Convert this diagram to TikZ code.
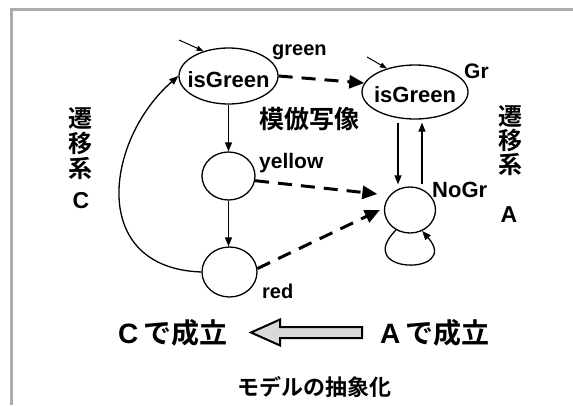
\documentclass[tikz,border=0pt]{standalone}
\usepackage{fontspec}
\setmainfont{Liberation Sans}
\newfontfamily\jp{Noto Sans CJK JP}[BoldFont={Noto Sans CJK JP Bold}]
\usetikzlibrary{shapes.geometric,arrows.meta,calc}

\tikzset{
  lat/.style={font=\fontsize{#1pt}{#1pt}\selectfont\bfseries, inner sep=0pt},
  jpf/.style={font=\jp\fontsize{#1pt}{#1pt}\selectfont\bfseries, inner sep=0pt},
  state/.style={ellipse, draw, line width=1.3pt, inner sep=0pt},
  trans/.style={-{Triangle[length=9pt,width=7pt]}, line width=1.3pt},
  initarr/.style={-{Triangle[length=7pt,width=5pt]}, line width=1pt},
  abst/.style={-{Triangle[length=15pt,width=13pt]}, line width=3pt, dash pattern=on 14pt off 9pt},
}

\begin{document}
\begin{tikzpicture}[x=1pt,y=-1pt]
\useasboundingbox (0,0) rectangle (573,405);

% frame edges
\draw[line width=3pt, draw=gray!65] (11.5,405) -- (11.5,9) -- (573,9);

% concrete system C
\node[state, minimum width=99pt, minimum height=56pt, lat=22, text height=24pt] (cg) at (228.5,76) {\makebox[0pt]{isGreen}};
\node[state, minimum width=53pt, minimum height=48pt] (cy) at (228.5,176) {};
\node[state, minimum width=55pt, minimum height=50pt] (cr) at (229.5,272) {};

% abstract system A
\node[state, minimum width=106pt, minimum height=54pt, lat=22, text height=22pt] (ag) at (415,92) {\makebox[0pt]{isGreen}};
\node[state, minimum width=51pt, minimum height=46pt] (an) at (410,210) {};

% state labels
\node[lat=20, anchor=base west] (lg) at (272,55) {green};
\node[lat=21, anchor=base west] (ly) at (259,168) {yellow};
\node[lat=20, anchor=base west] (lr) at (262,298) {red};
\node[lat=21, anchor=base west] (lgr) at (464,78) {Gr};
\node[lat=22, anchor=base west] (ln) at (432,197) {NoGr};

% initial-state arrows
\coordinate (ci) at (179,40);
\coordinate (ai) at (367,57);
\draw[initarr] (ci) -- (cg.135);
\draw[initarr] (ai) -- (ag.140);

% transitions of C
\draw[trans] (cg.south) -- (cy.north);
\draw[trans] (cy.south) -- (cy.south |- cr.north);
\draw[trans] (cr.west) .. controls (88,268) and (105,140) .. (cg.west);

% transitions of A
\draw[trans] ($(ag.south)+(-17,3)$) -- ($(an.north)+(-12,-2)$);
\draw[trans] ($(an.north)+(12,-2)$) -- ($(ag.south)+(7,3)$);
\draw[trans] (an.235) .. controls +(-45,45) and +(40,45) .. (an.300);

% simulation mapping
\draw[abst] (cg.east) -- (ag.170);
\draw[abst] (cy.-10) -- ($(an.west)+(-6.5,-16)$);
\draw[abst] (cr.7) -- ($(an.west)+(-4,0)$);
\node[jpf=25] (mm) at (309,119) {模倣写像};

% system names
\node[font=\jp\bfseries\fontsize{24pt}{25pt}\selectfont, align=center, anchor=north, inner sep=0pt] (sc) at (80,107)
  {遷\\移\\系};
\node[lat=23] (scn) at (81,200.5) {C};
\node[font=\jp\bfseries\fontsize{24pt}{24pt}\selectfont, align=center, anchor=north, inner sep=0pt] (sa) at (510,105)
  {遷\\移\\系};
\node[lat=23] (san) at (509,215) {A};

% property preservation
\node[font=\fontsize{28pt}{28pt}\selectfont\bfseries, inner sep=0pt, anchor=base west] (pc) at (118,343) {C\hspace{5pt}{\jp で成立}};
\node[font=\fontsize{28pt}{28pt}\selectfont\bfseries, inner sep=0pt, anchor=base west] (pa) at (380,343) {A\hspace{5pt}{\jp で成立}};
\draw[line width=2pt, fill=gray!30, line join=miter]
  (251,332.5) -- (280,319.5) -- (280,327) -- (362,327) -- (362,338) -- (280,338) -- (280,345.5) -- cycle;

\node[jpf=22] (ma) at (314,387) {モデルの抽象化};
\end{tikzpicture}
\end{document}
